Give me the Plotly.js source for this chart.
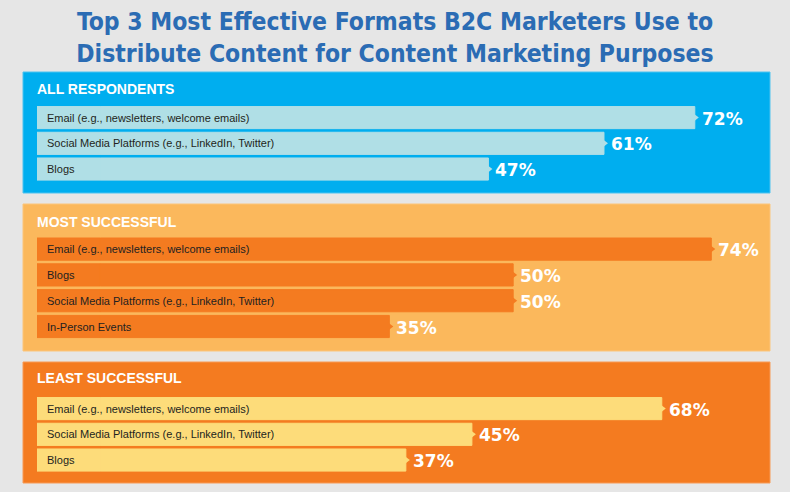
<!DOCTYPE html>
<html>
<head>
<meta charset="utf-8">
<script src="https://cdn.plot.ly/plotly-3.0.1.min.js"></script>
<style>html,body{margin:0;padding:0;background:#e6e6e6;}#chart{width:790px;height:492px;}</style>
</head>
<body>
<div id="chart"></div>
<script>
// ---- data ----
const chartTitle = 'Top 3 Most Effective Formats B2C Marketers Use to<br>Distribute Content for Content Marketing Purposes';
const panelTitles = ['ALL RESPONDENTS', 'MOST SUCCESSFUL', 'LEAST SUCCESSFUL'];
const allCats = ['Email (e.g., newsletters, welcome emails)', 'Social Media Platforms (e.g., LinkedIn, Twitter)', 'Blogs'];
const allVals = [72, 61, 47];
const mostCats = ['Email (e.g., newsletters, welcome emails)', 'Blogs', 'Social Media Platforms (e.g., LinkedIn, Twitter)', 'In-Person Events'];
const mostVals = [74, 50, 50, 35];
const leastCats = ['Email (e.g., newsletters, welcome emails)', 'Social Media Platforms (e.g., LinkedIn, Twitter)', 'Blogs'];
const leastVals = [68, 45, 37];

// ---- style ----
const W = 790, H = 492;
const labelPad = -7.68;           // label area left of zero
const xRange = [labelPad, 81.11];
const panels = [
  {cats: allCats, vals: allVals, yaxis: 'y', bg: '#00aeef', border: '#4cc3f0', bar: '#b0dfe6', top: 72, bottom: 193, head: 89, dom: [104.6, 181.9]},
  {cats: mostCats, vals: mostVals, yaxis: 'y2', bg: '#fbb85c', border: '#fcc57a', bar: '#f47b20', top: 204, bottom: 351, head: 222, dom: [236.1, 339.4]},
  {cats: leastCats, vals: leastVals, yaxis: 'y3', bg: '#f47b20', border: '#f89a55', bar: '#fddc7a', top: 362, bottom: 483, head: 378, dom: [395.6, 472.9]}
];
const py = v => 1 - v / H;
const px = v => v / W;

const traces = [];
const shapes = [];
const annotations = [];
panels.forEach((p, i) => {
  traces.push({
    type: 'bar', orientation: 'h', y: p.cats, x: p.cats.map(() => labelPad),
    xaxis: 'x', yaxis: p.yaxis, marker: {color: p.bar, line: {width: 1, color: p.bar}}, hoverinfo: 'skip'
  });
  traces.push({
    type: 'bar', orientation: 'h', y: p.cats, x: p.vals,
    xaxis: 'x', yaxis: p.yaxis, marker: {color: p.bar, line: {width: 1, color: p.bar}},
    hovertemplate: '%{y}: %{x}%<extra></extra>'
  });
  traces.push({
    type: 'scatter', mode: 'markers', y: p.cats, x: p.vals,
    xaxis: 'x', yaxis: p.yaxis, cliponaxis: false, hoverinfo: 'skip',
    marker: {symbol: 'triangle-right', size: 8, color: p.bar, line: {width: 0}}
  });
  shapes.push({
    type: 'rect', xref: 'paper', yref: 'paper', layer: 'below',
    x0: px(23), x1: px(770), y0: py(p.bottom), y1: py(p.top),
    fillcolor: p.bg, line: {color: p.border, width: 1}
  });
  annotations.push({
    xref: 'paper', yref: 'paper', x: px(35), y: py(p.head), xanchor: 'left', yanchor: 'middle',
    text: panelTitles[i], showarrow: false,
    font: {family: 'Liberation Sans, Arial, sans-serif', size: 14, color: '#ffffff', weight: 'bold'}
  });
  p.cats.forEach((c, j) => {
    annotations.push({
      xref: 'paper', yref: p.yaxis, x: px(45), y: c, xanchor: 'left', yanchor: 'middle',
      text: c, showarrow: false,
      font: {family: 'Liberation Sans, Arial, sans-serif', size: 11, color: '#231f20'}
    });
    annotations.push({
      xref: 'x', yref: p.yaxis, x: p.vals[j], y: c, xanchor: 'left', yanchor: 'middle',
      xshift: 5, yshift: -1,
      text: p.vals[j] + '%', showarrow: false,
      font: {family: 'DejaVu Sans, sans-serif', size: 17, color: '#ffffff', weight: 'bold'}
    });
  });
});

const hidden = {visible: false, fixedrange: true, showgrid: false, zeroline: false};
const layout = {
  width: W, height: H,
  margin: {l: 0, r: 0, t: 0, b: 0, pad: 0},
  paper_bgcolor: '#e6e6e6', plot_bgcolor: 'rgba(0,0,0,0)',
  showlegend: false, barmode: 'relative', bargap: 0.14,
  title: {
    text: chartTitle, x: 0.5, xanchor: 'center', xref: 'paper',
    y: py(30), yref: 'container', yanchor: 'middle',
    font: {family: 'DejaVu Sans Condensed, sans-serif', size: 24.5, color: '#2b6cb4', weight: 'bold'}
  },
  xaxis: Object.assign({domain: [px(37), px(770)], range: xRange, anchor: 'y'}, hidden),
  yaxis: Object.assign({domain: [py(panels[0].dom[1]), py(panels[0].dom[0])], type: 'category', autorange: 'reversed', anchor: 'x'}, hidden),
  yaxis2: Object.assign({domain: [py(panels[1].dom[1]), py(panels[1].dom[0])], type: 'category', autorange: 'reversed', anchor: 'x'}, hidden),
  yaxis3: Object.assign({domain: [py(panels[2].dom[1]), py(panels[2].dom[0])], type: 'category', autorange: 'reversed', anchor: 'x'}, hidden),
  shapes: shapes,
  annotations: annotations
};

Plotly.newPlot('chart', traces, layout, {displayModeBar: false, staticPlot: true});
</script>
</body>
</html>
